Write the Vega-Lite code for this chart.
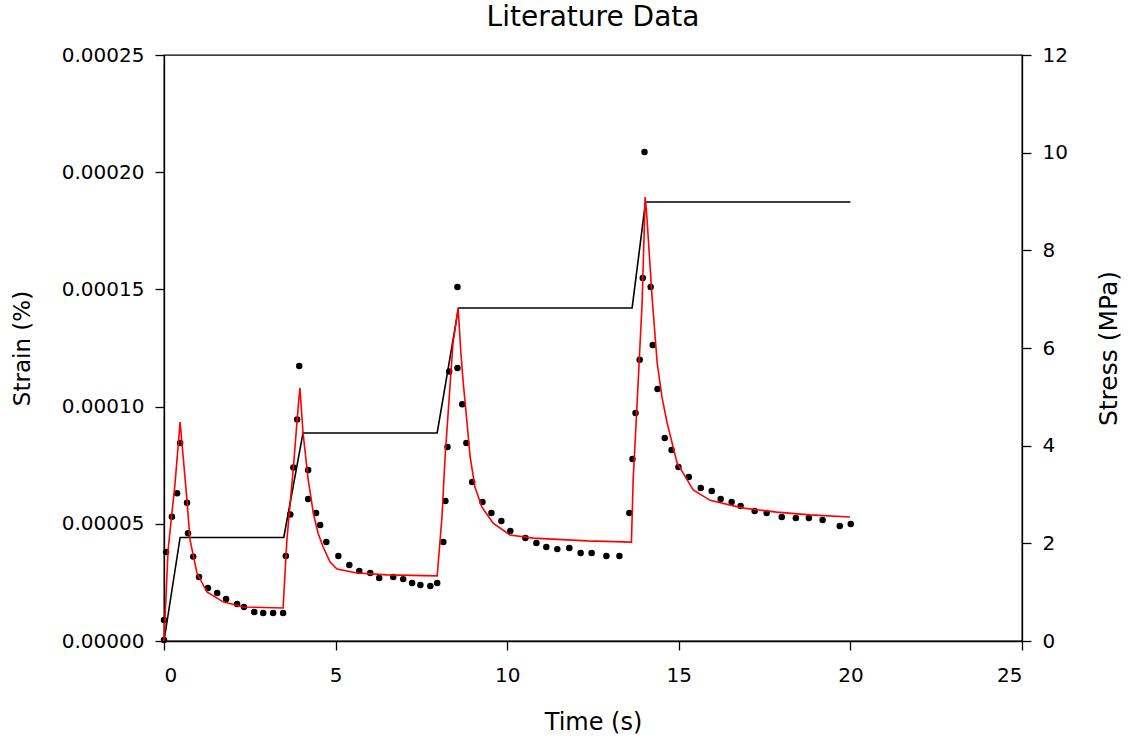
{
  "$schema": "https://vega.github.io/schema/vega-lite/v6.json",
  "width": 858,
  "height": 586,
  "autosize": {"type": "none"},
  "padding": {"left": 164, "top": 55, "right": 106, "bottom": 99},
  "background": "white",
  "title": {"text": "Literature Data", "font": "DejaVu Sans", "fontSize": 28, "fontWeight": "normal", "color": "#000", "offset": 13},
  "config": {
    "view": {"stroke": "#000", "strokeWidth": 1.3},
    "axis": {
      "grid": false,
      "domainColor": "#000",
      "domainWidth": 1.3,
      "tickColor": "#000",
      "tickWidth": 1.3,
      "tickSize": 9,
      "labelColor": "#000",
      "titleColor": "#000",
      "labelFont": "DejaVu Sans",
      "titleFont": "DejaVu Sans",
      "labelFontSize": 20,
      "titleFontWeight": "normal"
    }
  },
  "datasets": {
    "stress": [
      {"t": 0, "stress": 0},
      {"t": 0.47, "stress": 2.12},
      {"t": 3.49, "stress": 2.12},
      {"t": 4.05, "stress": 4.26},
      {"t": 7.96, "stress": 4.26},
      {"t": 8.58, "stress": 6.82},
      {"t": 13.64, "stress": 6.82},
      {"t": 14.03, "stress": 8.99},
      {"t": 20.0, "stress": 8.99}
    ],
    "model": [
      {"t": 0, "strain": 0},
      {"t": 0.12, "strain": 3.9e-5},
      {"t": 0.32, "strain": 6.7e-5},
      {"t": 0.47, "strain": 9.34e-5},
      {"t": 0.55, "strain": 8.0e-5},
      {"t": 0.67, "strain": 6.0e-5},
      {"t": 0.76, "strain": 4.3e-5},
      {"t": 0.96, "strain": 2.9e-5},
      {"t": 1.25, "strain": 2.09e-5},
      {"t": 1.72, "strain": 1.67e-5},
      {"t": 2.3, "strain": 1.45e-5},
      {"t": 3.47, "strain": 1.41e-5},
      {"t": 3.58, "strain": 4.3e-5},
      {"t": 3.77, "strain": 7.4e-5},
      {"t": 3.91, "strain": 10.0e-5},
      {"t": 3.96, "strain": 10.8e-5},
      {"t": 4.05, "strain": 8.9e-5},
      {"t": 4.2, "strain": 6.9e-5},
      {"t": 4.35, "strain": 5.46e-5},
      {"t": 4.49, "strain": 4.6e-5},
      {"t": 4.64, "strain": 4.0e-5},
      {"t": 4.84, "strain": 3.37e-5},
      {"t": 5.04, "strain": 3.07e-5},
      {"t": 5.62, "strain": 2.9e-5},
      {"t": 6.5, "strain": 2.82e-5},
      {"t": 7.96, "strain": 2.78e-5},
      {"t": 8.1, "strain": 5.3e-5},
      {"t": 8.19, "strain": 7.85e-5},
      {"t": 8.33, "strain": 10.8e-5},
      {"t": 8.42, "strain": 12.7e-5},
      {"t": 8.57, "strain": 14.2e-5},
      {"t": 8.65, "strain": 12.3e-5},
      {"t": 8.72, "strain": 11.0e-5},
      {"t": 8.83, "strain": 9.3e-5},
      {"t": 8.92, "strain": 7.85e-5},
      {"t": 9.06, "strain": 6.57e-5},
      {"t": 9.26, "strain": 5.72e-5},
      {"t": 9.59, "strain": 5.03e-5},
      {"t": 10.08, "strain": 4.52e-5},
      {"t": 10.76, "strain": 4.39e-5},
      {"t": 12.33, "strain": 4.27e-5},
      {"t": 13.62, "strain": 4.22e-5},
      {"t": 13.67, "strain": 6.87e-5},
      {"t": 13.78, "strain": 10.0e-5},
      {"t": 13.93, "strain": 14.4e-5},
      {"t": 14.02, "strain": 18.94e-5},
      {"t": 14.07, "strain": 18.1e-5},
      {"t": 14.22, "strain": 14.7e-5},
      {"t": 14.37, "strain": 11.86e-5},
      {"t": 14.51, "strain": 10.4e-5},
      {"t": 14.66, "strain": 9.3e-5},
      {"t": 14.95, "strain": 7.6e-5},
      {"t": 15.42, "strain": 6.44e-5},
      {"t": 15.91, "strain": 6.0e-5},
      {"t": 16.87, "strain": 5.67e-5},
      {"t": 17.86, "strain": 5.5e-5},
      {"t": 18.82, "strain": 5.38e-5},
      {"t": 19.99, "strain": 5.29e-5}
    ],
    "measured": [
      {"t": 0.0, "strain": 0.04e-5},
      {"t": 0.0, "strain": 0.9e-5},
      {"t": 0.06, "strain": 3.8e-5},
      {"t": 0.23, "strain": 5.3e-5},
      {"t": 0.38, "strain": 6.3e-5},
      {"t": 0.47, "strain": 8.45e-5},
      {"t": 0.67, "strain": 5.9e-5},
      {"t": 0.7, "strain": 4.6e-5},
      {"t": 0.85, "strain": 3.6e-5},
      {"t": 1.02, "strain": 2.73e-5},
      {"t": 1.28, "strain": 2.26e-5},
      {"t": 1.55, "strain": 2.05e-5},
      {"t": 1.81, "strain": 1.79e-5},
      {"t": 2.13, "strain": 1.58e-5},
      {"t": 2.33, "strain": 1.45e-5},
      {"t": 2.63, "strain": 1.24e-5},
      {"t": 2.89, "strain": 1.19e-5},
      {"t": 3.18, "strain": 1.19e-5},
      {"t": 3.47, "strain": 1.19e-5},
      {"t": 3.55, "strain": 3.63e-5},
      {"t": 3.68, "strain": 5.4e-5},
      {"t": 3.77, "strain": 7.4e-5},
      {"t": 3.88, "strain": 9.45e-5},
      {"t": 3.94, "strain": 11.73e-5},
      {"t": 4.2, "strain": 7.3e-5},
      {"t": 4.2, "strain": 6.06e-5},
      {"t": 4.43, "strain": 5.46e-5},
      {"t": 4.55, "strain": 4.95e-5},
      {"t": 4.73, "strain": 4.22e-5},
      {"t": 5.08, "strain": 3.63e-5},
      {"t": 5.4, "strain": 3.24e-5},
      {"t": 5.69, "strain": 2.99e-5},
      {"t": 6.01, "strain": 2.9e-5},
      {"t": 6.27, "strain": 2.69e-5},
      {"t": 6.68, "strain": 2.73e-5},
      {"t": 6.97, "strain": 2.64e-5},
      {"t": 7.23, "strain": 2.47e-5},
      {"t": 7.47, "strain": 2.39e-5},
      {"t": 7.76, "strain": 2.35e-5},
      {"t": 7.96, "strain": 2.47e-5},
      {"t": 8.14, "strain": 4.22e-5},
      {"t": 8.2, "strain": 5.97e-5},
      {"t": 8.26, "strain": 8.28e-5},
      {"t": 8.31, "strain": 11.5e-5},
      {"t": 8.55, "strain": 15.1e-5},
      {"t": 8.55, "strain": 11.65e-5},
      {"t": 8.69, "strain": 10.1e-5},
      {"t": 8.81, "strain": 8.45e-5},
      {"t": 8.98, "strain": 6.78e-5},
      {"t": 9.28, "strain": 5.93e-5},
      {"t": 9.54, "strain": 5.46e-5},
      {"t": 9.83, "strain": 5.12e-5},
      {"t": 10.09, "strain": 4.69e-5},
      {"t": 10.53, "strain": 4.39e-5},
      {"t": 10.85, "strain": 4.18e-5},
      {"t": 11.14, "strain": 4.01e-5},
      {"t": 11.46, "strain": 3.92e-5},
      {"t": 11.81, "strain": 3.97e-5},
      {"t": 12.14, "strain": 3.75e-5},
      {"t": 12.46, "strain": 3.75e-5},
      {"t": 12.89, "strain": 3.63e-5},
      {"t": 13.27, "strain": 3.63e-5},
      {"t": 13.56, "strain": 5.46e-5},
      {"t": 13.65, "strain": 7.76e-5},
      {"t": 13.74, "strain": 9.73e-5},
      {"t": 13.86, "strain": 12.0e-5},
      {"t": 13.95, "strain": 15.49e-5},
      {"t": 14.0, "strain": 20.86e-5},
      {"t": 14.18, "strain": 15.1e-5},
      {"t": 14.24, "strain": 12.63e-5},
      {"t": 14.38, "strain": 10.75e-5},
      {"t": 14.59, "strain": 8.66e-5},
      {"t": 14.79, "strain": 8.15e-5},
      {"t": 14.99, "strain": 7.42e-5},
      {"t": 15.29, "strain": 7.0e-5},
      {"t": 15.64, "strain": 6.53e-5},
      {"t": 15.96, "strain": 6.4e-5},
      {"t": 16.22, "strain": 6.06e-5},
      {"t": 16.54, "strain": 5.93e-5},
      {"t": 16.8, "strain": 5.76e-5},
      {"t": 17.21, "strain": 5.55e-5},
      {"t": 17.56, "strain": 5.46e-5},
      {"t": 18.0, "strain": 5.29e-5},
      {"t": 18.41, "strain": 5.25e-5},
      {"t": 18.79, "strain": 5.25e-5},
      {"t": 19.19, "strain": 5.16e-5},
      {"t": 19.69, "strain": 4.91e-5},
      {"t": 20.01, "strain": 4.99e-5}
    ]
  },
  "layer": [
    {
      "data": {"name": "stress"},
      "mark": {"type": "line", "color": "#000", "strokeWidth": 1.6},
      "encoding": {
        "x": {"field": "t", "type": "quantitative", "scale": {"domain": [0, 25], "nice": false},
              "axis": {"title": "Time (s)", "values": [0, 5, 10, 15, 20, 25], "format": "d", "labelPadding": 15, "titleFontSize": 24, "titlePadding": 25}},
        "y": {"field": "stress", "type": "quantitative", "scale": {"domain": [0, 12], "nice": false},
              "axis": {"orient": "right", "title": "Stress (MPa)", "values": [0, 2, 4, 6, 8, 10, 12], "format": "d", "labelPadding": 11, "titleFontSize": 25, "titleAngle": 270, "titlePadding": 54}}
      }
    },
    {
      "layer": [
        {
          "data": {"name": "measured"},
          "mark": {"type": "point", "filled": true, "shape": "circle", "size": 42, "color": "#000", "opacity": 1},
          "encoding": {
            "x": {"field": "t", "type": "quantitative"},
            "y": {"field": "strain", "type": "quantitative"}
          }
        },
        {
          "data": {"name": "model"},
          "mark": {"type": "line", "color": "#ff0000", "strokeWidth": 1.6},
          "encoding": {
            "x": {"field": "t", "type": "quantitative"},
            "y": {"field": "strain", "type": "quantitative", "scale": {"domain": [0, 0.00025], "nice": false},
                  "axis": {"orient": "left", "title": "Strain (%)", "values": [0, 0.00005, 0.0001, 0.00015, 0.0002, 0.00025], "format": ".5f", "labelPadding": 11, "titleFontSize": 23, "titlePadding": 27}}
          }
        }
      ]
    }
  ],
  "resolve": {"scale": {"y": "independent"}}
}
